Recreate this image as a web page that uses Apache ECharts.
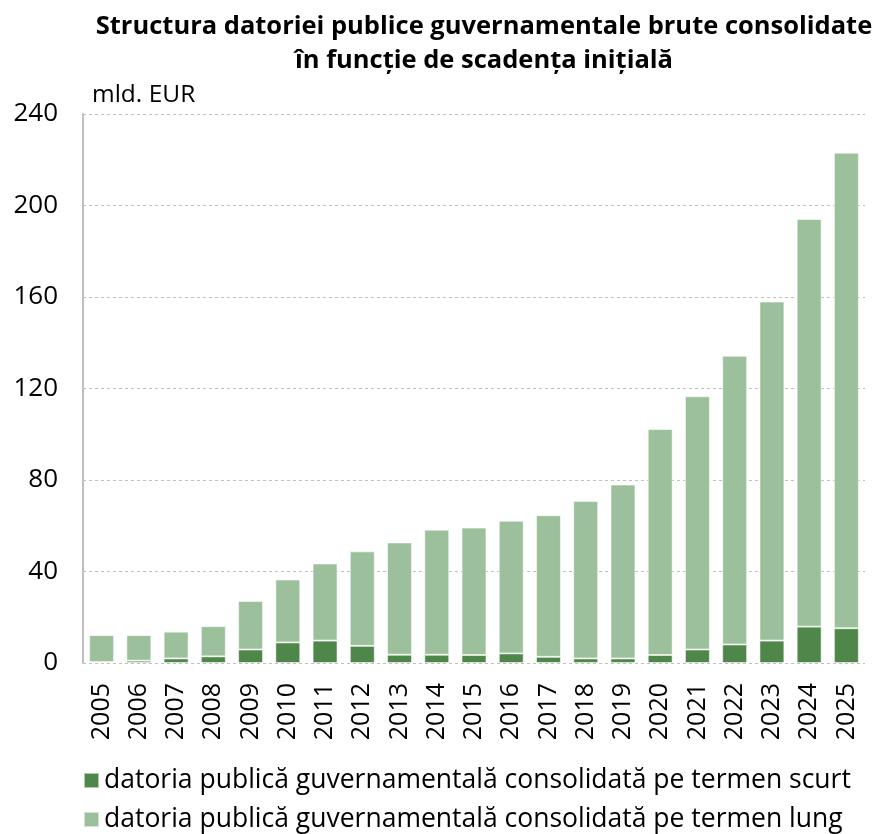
<!DOCTYPE html>
<html>
<head>
<meta charset="utf-8">
<script src="https://cdn.jsdelivr.net/npm/echarts@6/dist/echarts.min.js"></script>
<style>html,body{margin:0;padding:0;background:#fff;}#c{width:878px;height:834px;}</style>
</head>
<body>
<div id="c"></div>
<script>
const years = ['2005','2006','2007','2008','2009','2010','2011','2012','2013','2014','2015','2016','2017','2018','2019','2020','2021','2022','2023','2024','2025'];
const shortTerm = [0.4,1.0,2.0,2.9,5.9,9.0,9.8,7.5,3.6,3.6,3.5,4.2,2.7,2.0,2.0,3.5,5.9,8.1,9.8,15.9,15.2];
const longTerm = [11.8,11.2,11.7,13.2,21.2,27.5,33.7,41.3,49.1,54.7,55.7,58.0,61.9,68.8,76.0,98.8,110.7,126.2,148.2,178.2,207.9];
const yTicks = [0,40,80,120,160,200,240];
const titleText = 'Structura datoriei publice guvernamentale brute consolidate\nîn funcție de scadența inițială';
const unitText = 'mld. EUR';
const seriesNames = ['datoria publică guvernamentală consolidată pe termen scurt','datoria publică guvernamentală consolidată pe termen lung'];

const FONT = '"Open Sans", sans-serif';
const legendText = {fontFamily: FONT, fontSize: 26.5, color: '#000'};
const chart = echarts.init(document.getElementById('c'));
chart.setOption({
  animation: false,
  backgroundColor: '#fff',
  title: {
    text: titleText,
    left: 479, top: 5, textAlign: 'center',
    textStyle: {fontFamily: FONT, fontSize: 25.5, fontWeight: 'bold', color: '#000', lineHeight: 34}
  },
  graphic: [{
    type: 'text', left: 92, top: 83,
    style: {text: unitText, font: '24.5px "Open Sans", sans-serif', fill: '#000'}
  }],
  legend: [
    {left: 78, top: 762, itemWidth: 15, itemHeight: 15, icon: 'rect', textStyle: legendText, data: [seriesNames[0]]},
    {left: 78, top: 801, itemWidth: 15, itemHeight: 15, icon: 'rect', textStyle: legendText, data: [seriesNames[1]]}
  ],
  grid: {left: 83, right: 13, top: 114, bottom: 171},
  xAxis: {
    type: 'category', data: years,
    axisLine: {show: false}, axisTick: {show: false},
    axisLabel: {rotate: 90, fontFamily: FONT, fontSize: 25, color: '#000', margin: 20}
  },
  yAxis: {
    type: 'value', min: 0, max: 240, interval: 40,
    axisLine: {show: true, lineStyle: {color: '#bfbfbf', width: 2}},
    axisTick: {show: false},
    axisLabel: {fontFamily: FONT, fontSize: 26, color: '#000', margin: 25,
      formatter: v => yTicks.includes(v) ? String(v) : ''},
    splitLine: {show: true, lineStyle: {color: '#c0c0c0', type: [3,3], width: 1}}
  },
  series: [
    {name: seriesNames[0], type: 'bar', stack: 't', data: shortTerm, barWidth: '67%',
     itemStyle: {color: '#4e8749', borderColor: 'rgba(255,255,255,0.55)', borderWidth: 1}},
    {name: seriesNames[1], type: 'bar', stack: 't', data: longTerm, barWidth: '67%',
     itemStyle: {color: '#9cc09b', borderColor: 'rgba(255,255,255,0.55)', borderWidth: 1}}
  ]
});
</script>
</body>
</html>
